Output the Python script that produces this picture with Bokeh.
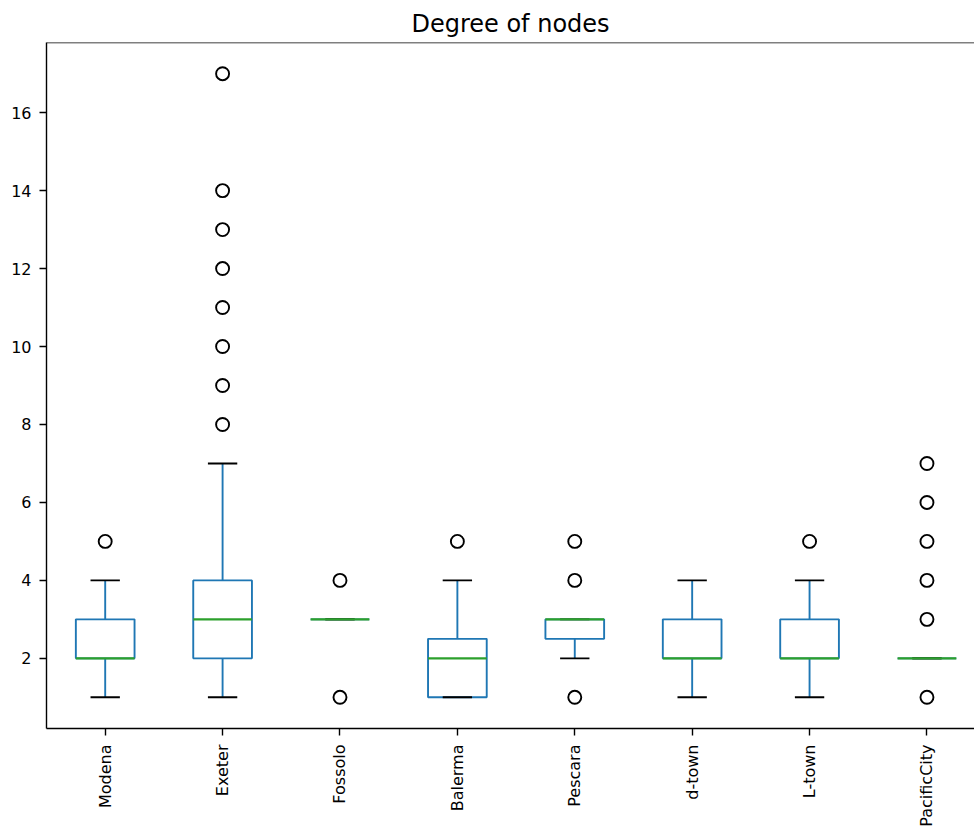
import numpy as np
from bokeh.plotting import figure
from bokeh.models import FixedTicker, Span, Range1d
from bokeh.embed import file_html
from bokeh.resources import INLINE

# ---- data ----
categories = ["Modena", "Exeter", "Fossolo", "Balerma", "Pescara", "d-town", "L-town", "PacificCity"]
q1 = [2, 2, 3, 1, 2.5, 2, 2, 2]
median = [2, 3, 3, 2, 3, 2, 2, 2]
q3 = [3, 4, 3, 2.5, 3, 3, 3, 2]
whisker_low = [1, 1, 3, 1, 2, 1, 1, 2]
whisker_high = [4, 7, 3, 4, 3, 4, 4, 2]
outliers = {
    "Modena": [5],
    "Exeter": [8, 9, 10, 11, 12, 13, 14, 17],
    "Fossolo": [4, 1],
    "Balerma": [5],
    "Pescara": [5, 4, 1],
    "d-town": [],
    "L-town": [5],
    "PacificCity": [7, 6, 5, 4, 3, 1],
}
y_ticks = [2, 4, 6, 8, 10, 12, 14, 16]

BLUE = "#1f77b4"
GREEN = "#2ca02c"
FONT = "DejaVu Sans"
LW = 1.9

x = np.arange(1, len(categories) + 1, dtype=float)
q1a, meda, q3a = np.array(q1, float), np.array(median, float), np.array(q3, float)
wl, wh = np.array(whisker_low, float), np.array(whisker_high, float)
box_half = 0.25
cap_half = 0.125

p = figure(width=974, height=831, output_backend="svg", toolbar_location=None,
           x_range=Range1d(0.5, 8.405), y_range=Range1d(0.2, 17.8),
           min_border_left=46, min_border_right=0, min_border_top=42, min_border_bottom=103,
           title="Degree of nodes")
p.outline_line_color = None
p.background_fill_color = "white"
p.border_fill_color = "white"
p.xgrid.visible = False
p.ygrid.visible = False

p.title.align = "center"
p.title.text_font = FONT
p.title.text_font_size = "24px"
p.title.text_font_style = "normal"
p.title.text_color = "black"
p.title.offset = 6

# boxes
p.quad(left=x - box_half, right=x + box_half, bottom=q1a, top=q3a,
       fill_color=None, line_color=BLUE, line_width=LW)
# whiskers
p.segment(x0=x, y0=q1a, x1=x, y1=wl, line_color=BLUE, line_width=LW)
p.segment(x0=x, y0=q3a, x1=x, y1=wh, line_color=BLUE, line_width=LW)
# caps
p.segment(x0=x - cap_half, y0=wl, x1=x + cap_half, y1=wl, line_color="black", line_width=LW)
p.segment(x0=x - cap_half, y0=wh, x1=x + cap_half, y1=wh, line_color="black", line_width=LW)
# medians
p.segment(x0=x - box_half, y0=meda, x1=x + box_half, y1=meda, line_color=GREEN, line_width=LW + 0.2)
# outliers
ox, oy = [], []
for i, c in enumerate(categories):
    for v in outliers[c]:
        ox.append(x[i])
        oy.append(v)
p.scatter(ox, oy, marker="circle", size=13, fill_color=None, line_color="black", line_width=LW)

# top spine
p.add_layout(Span(location=17.8, dimension="width", line_color="black", line_width=1.4))

for ax in (p.xaxis[0], p.yaxis[0]):
    ax.axis_line_color = "black"
    ax.axis_line_width = 1.4
    ax.major_tick_line_color = "black"
    ax.major_tick_line_width = 1.4
    ax.major_tick_out = 7
    ax.major_tick_in = 0
    ax.minor_tick_line_color = None
    ax.major_label_text_font = FONT
    ax.major_label_text_font_size = "16px"
    ax.major_label_text_color = "black"

p.xaxis.ticker = FixedTicker(ticks=list(x))
p.xaxis.major_label_overrides = {float(xi): c for xi, c in zip(x, categories)}
p.xaxis.major_label_overrides.update({int(xi): c for xi, c in zip(x, categories)})
p.xaxis.major_label_orientation = np.pi / 2
p.xaxis.major_label_standoff = 9
p.yaxis.ticker = FixedTicker(ticks=y_ticks)
p.yaxis.major_label_standoff = 8

open("out.html", "w").write(file_html(p, INLINE))
